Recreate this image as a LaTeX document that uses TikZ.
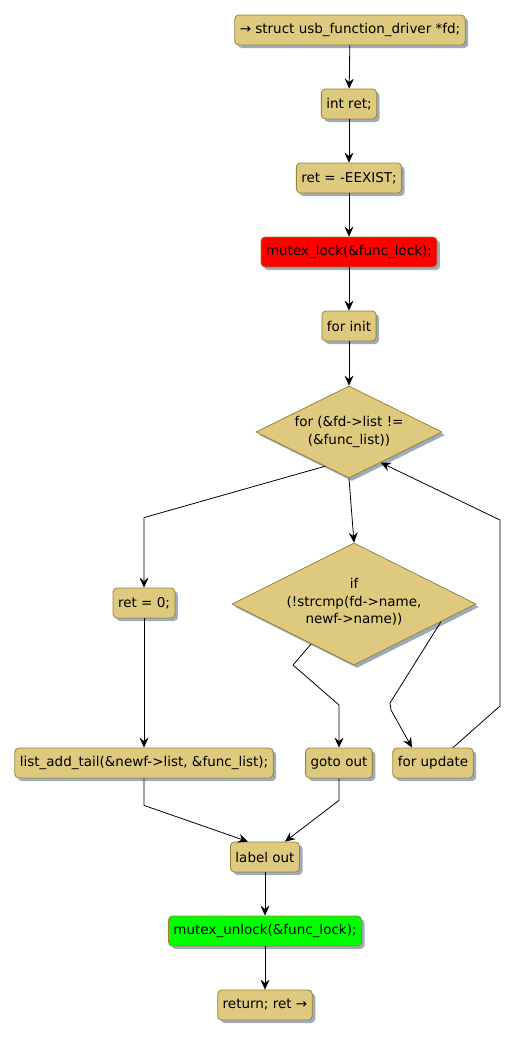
\documentclass[tikz,border=0pt]{standalone}
\usepackage{fontspec}
\setmainfont{DejaVu Sans}
\usepackage{xcolor}
\usetikzlibrary{shapes.geometric,shadows,arrows.meta,calc}

\definecolor{actfill}{RGB}{222,202,126}
\definecolor{actline}{RGB}{152,132,52}
\definecolor{actshadow}{RGB}{158,170,192}
\definecolor{lockred}{RGB}{255,0,0}
\definecolor{unlockgreen}{RGB}{0,255,0}

\begin{document}
\begin{tikzpicture}[x=1pt, y=-1pt,
    font=\fontsize{13.5}{17.5}\selectfont,
    act/.style={rectangle, rounded corners=4pt, draw=actline, fill=actfill, line width=0.8pt,
        minimum height=30pt, inner xsep=5pt, inner ysep=0pt,
        drop shadow={shadow xshift=3pt, shadow yshift=-3pt, fill=actshadow, opacity=1}},
    cond/.style={diamond, draw=actline, fill=actfill, line width=0.8pt, inner sep=0pt,
        drop shadow={shadow xshift=3pt, shadow yshift=-3pt, fill=actshadow, opacity=1}},
    flow/.style={-{Stealth[length=10pt,width=9pt,inset=3.5pt]}, line width=0.8pt}]
    \useasboundingbox (0,0) rectangle (516,1039);

    \node[act] (start) at (350,30) {→ struct usb\_function\_driver *fd;};
    \node[act] (decl) at (349,104) {int ret;};
    \node[act] (eexist) at (349,178) {ret = -EEXIST;};
    \node[act, fill=lockred] (lock) at (349,252) {mutex\_lock(\&func\_lock);};
    \node[act] (finit) at (349,326) {for init};
    \node[cond, minimum width=186pt, minimum height=92pt,
        label={[align=center]center:for (\&fd->list !=\\(\&func\_list))}] (floop) at (349,432) {};
    \node[cond, minimum width=244pt, minimum height=122pt,
        label={[align=center, yshift=2pt]center:if\\(!strcmp(fd->name,\\newf->name))}] (match) at (354,604) {};
    \node[act] (zero) at (144,603) {ret = 0;};
    \node[act] (addtail) at (144,763) {list\_add\_tail(\&newf->list, \&func\_list);};
    \node[act] (gout) at (339,763) {goto out};
    \node[act] (fupd) at (433,763) {for update};
    \node[act] (lout) at (265,857) {label out};
    \node[act, fill=unlockgreen] (unlock) at (265,931) {mutex\_unlock(\&func\_lock);};
    \node[act] (ret) at (265,1005) {return; ret →};

    \draw[flow] (start) -- (decl);
    \draw[flow] (decl) -- (eexist);
    \draw[flow] (eexist) -- (lock);
    \draw[flow] (lock) -- (finit);
    \draw[flow] (finit) -- (floop);
    \draw[flow] ($(floop.west)!0.74!(floop.south)$) -- ([yshift=70pt]zero.north) -- (zero.north);
    \draw[flow] (floop.south) -- (match.north);
    \draw[flow] ($(match.west)!0.65!(match.south)$) -- (293,665) -- (339,705) -- (gout.north);
    \draw[flow] ($(match.east)!0.29!(match.south)$) -- (390,703) -- (391,710) -- ([xshift=-21pt]fupd.north);
    \draw[flow] ([xshift=20pt]fupd.north) -- (500,706) -- (500,520) -- ($(floop.east)!0.66!(floop.south)$);
    \draw[flow] (zero) -- (addtail);
    \draw[flow] (addtail.south) -- ++(0,27) -- ([xshift=-17pt]lout.north);
    \draw[flow] (gout.south) -- ++(0,22) -- ([xshift=20pt]lout.north);
    \draw[flow] (lout) -- (unlock);
    \draw[flow] (unlock) -- (ret);
\end{tikzpicture}
\end{document}
